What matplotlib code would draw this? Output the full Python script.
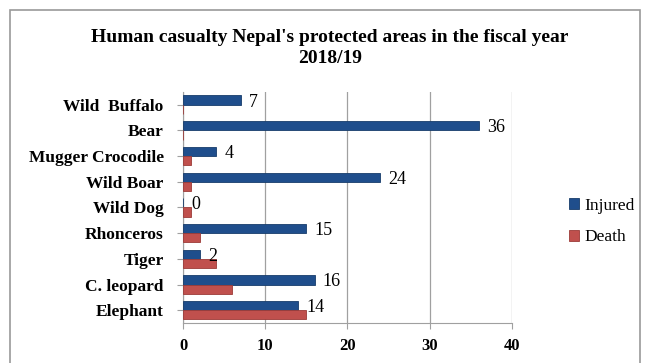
import matplotlib.pyplot as plt
import numpy as np
from matplotlib.patches import Rectangle

# data (bottom to top as drawn)
animals = ['Elephant', 'C. leopard', 'Tiger', 'Rhonceros', 'Wild Dog',
           'Wild Boar', 'Mugger Crocodile', 'Bear', 'Wild  Buffalo']
injured = [14, 16, 2, 15, 0, 24, 4, 36, 7]
death = [15, 6, 4, 2, 1, 1, 1, 0, 0]
xticks = [0, 10, 20, 30, 40]

plt.rcParams['font.family'] = ['Liberation Serif', 'DejaVu Serif']

fig = plt.figure(figsize=(6.47, 3.63), dpi=100)
ax = fig.add_axes([0.283, 0.110, 0.508, 0.637])

# outer chart frame
fig.patches.append(Rectangle((10/647, -0.05), 630/647, 1.0 - 10/363 + 0.05,
                             transform=fig.transFigure, fill=False,
                             edgecolor='#9a9a9a', linewidth=1.2))

y = np.arange(len(animals))
h = 0.36
ax.barh(y + h/2, injured, height=h, color='#1f4e8c', edgecolor='#173c6b',
        linewidth=0.6, label='Injured', zorder=3)
ax.barh(y - h/2, death, height=h, color='#c0504d', edgecolor='#9c3b38',
        linewidth=0.6, label='Death', zorder=3)

for yi, v in zip(y, injured):
    ax.text(v + 1.0, yi + 0.1, str(v), va='center', ha='left', fontsize=13)

ax.set_xlim(0, 40)
ax.set_ylim(-0.5, len(animals) - 0.5)
ax.set_xticks(xticks)
ax.set_xticklabels([str(t) for t in xticks], fontsize=12, fontweight='bold')
ax.set_yticks(y)
ax.set_yticklabels(animals, fontsize=12.5, fontweight='bold')
ax.grid(axis='x', color='#a0a0a0', linewidth=0.9, zorder=0)
ax.tick_params(axis='y', length=4, color='#a0a0a0', pad=10)
ax.tick_params(axis='x', length=4, color='#a0a0a0', pad=7)
for s in ['top', 'right']:
    ax.spines[s].set_visible(False)
ax.spines['left'].set_color('#a0a0a0')
ax.spines['bottom'].set_color('#a0a0a0')

fig.text(0.51, 0.868, "Human casualty Nepal's protected areas in the fiscal year\n2018/19",
         ha='center', va='center', fontsize=14, fontweight='bold', linespacing=1.3)

fig.legend(loc='center left', bbox_to_anchor=(0.855, 0.39), frameon=False,
           fontsize=12.5, handlelength=0.6, handleheight=0.6, handletextpad=0.3,
           labelspacing=0.9)

fig.savefig('out.png', dpi=100)
